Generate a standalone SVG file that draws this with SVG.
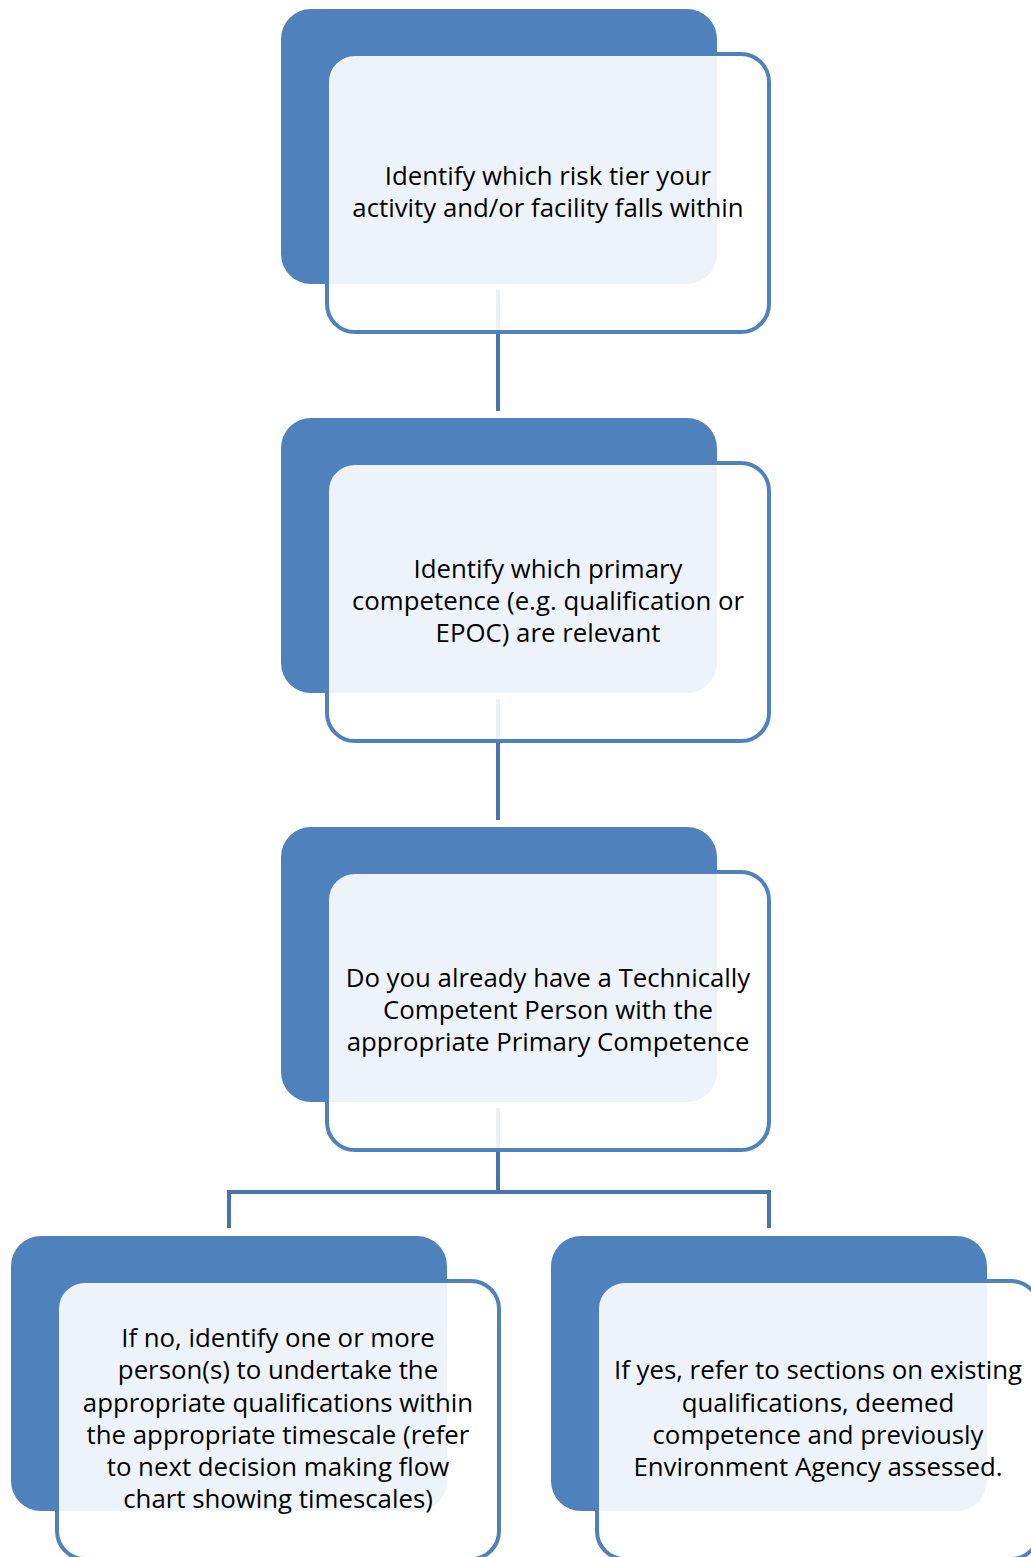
<svg xmlns="http://www.w3.org/2000/svg" width="1031" height="1557" viewBox="0 0 1031 1557">
<style>
.back{fill:#4F81BD}
.front{fill:#FFFFFF;fill-opacity:0.9;stroke:#4F81BD;stroke-width:4}
.conn{fill:none;stroke:#4874AB;stroke-width:4}
text{font-family:"Open Sans","Noto Sans","Liberation Sans",sans-serif;font-size:25.8px;fill:#000;text-anchor:middle}
</style>
<rect width="1031" height="1557" fill="#FFFFFF"/>
<g id="nodes-back">
<rect class="back" x="281" y="9" width="436" height="275" rx="30"/>
<rect class="back" x="281" y="418" width="436" height="275" rx="30"/>
<rect class="back" x="281" y="827" width="436" height="275" rx="30"/>
<rect class="back" x="11" y="1236" width="436" height="275" rx="30"/>
<rect class="back" x="551" y="1236" width="436" height="275" rx="30"/>
</g>
<g id="connectors">
<path class="conn" d="M498 290 V411"/>
<path class="conn" d="M498 699 V820"/>
<path class="conn" d="M498 1108 V1192 M229 1228 V1192 H769 V1228"/>
</g>
<g id="node1">
<rect class="front" x="327" y="54" width="442" height="278" rx="28"/>
<text x="548" y="185"><tspan x="548" y="185">Identify which risk tier your</tspan><tspan x="548" y="217">activity and/or facility falls within</tspan></text>
</g>
<g id="node2">
<rect class="front" x="327" y="463" width="442" height="278" rx="28"/>
<text x="548" y="578"><tspan x="548" y="578">Identify which primary</tspan><tspan x="548" y="610">competence (e.g. qualification or</tspan><tspan x="548" y="642">EPOC) are relevant</tspan></text>
</g>
<g id="node3">
<rect class="front" x="327" y="872" width="442" height="278" rx="28"/>
<text x="548" y="987"><tspan x="548" y="987">Do you already have a Technically</tspan><tspan x="548" y="1019">Competent Person with the</tspan><tspan x="548" y="1051">appropriate Primary Competence</tspan></text>
</g>
<g id="node4">
<rect class="front" x="57" y="1281" width="442" height="278" rx="28"/>
<text x="278" y="1347"><tspan x="278" y="1347">If no, identify one or more</tspan><tspan x="278" y="1379">person(s) to undertake the</tspan><tspan x="278" y="1412">appropriate qualifications within</tspan><tspan x="278" y="1444">the appropriate timescale (refer</tspan><tspan x="278" y="1476">to next decision making flow</tspan><tspan x="278" y="1508">chart showing timescales)</tspan></text>
</g>
<g id="node5">
<rect class="front" x="597" y="1281" width="442" height="278" rx="28"/>
<text x="818" y="1379"><tspan x="818" y="1379">If yes, refer to sections on existing</tspan><tspan x="818" y="1412">qualifications, deemed</tspan><tspan x="818" y="1444">competence and previously</tspan><tspan x="818" y="1476">Environment Agency assessed.</tspan></text>
</g>
</svg>
